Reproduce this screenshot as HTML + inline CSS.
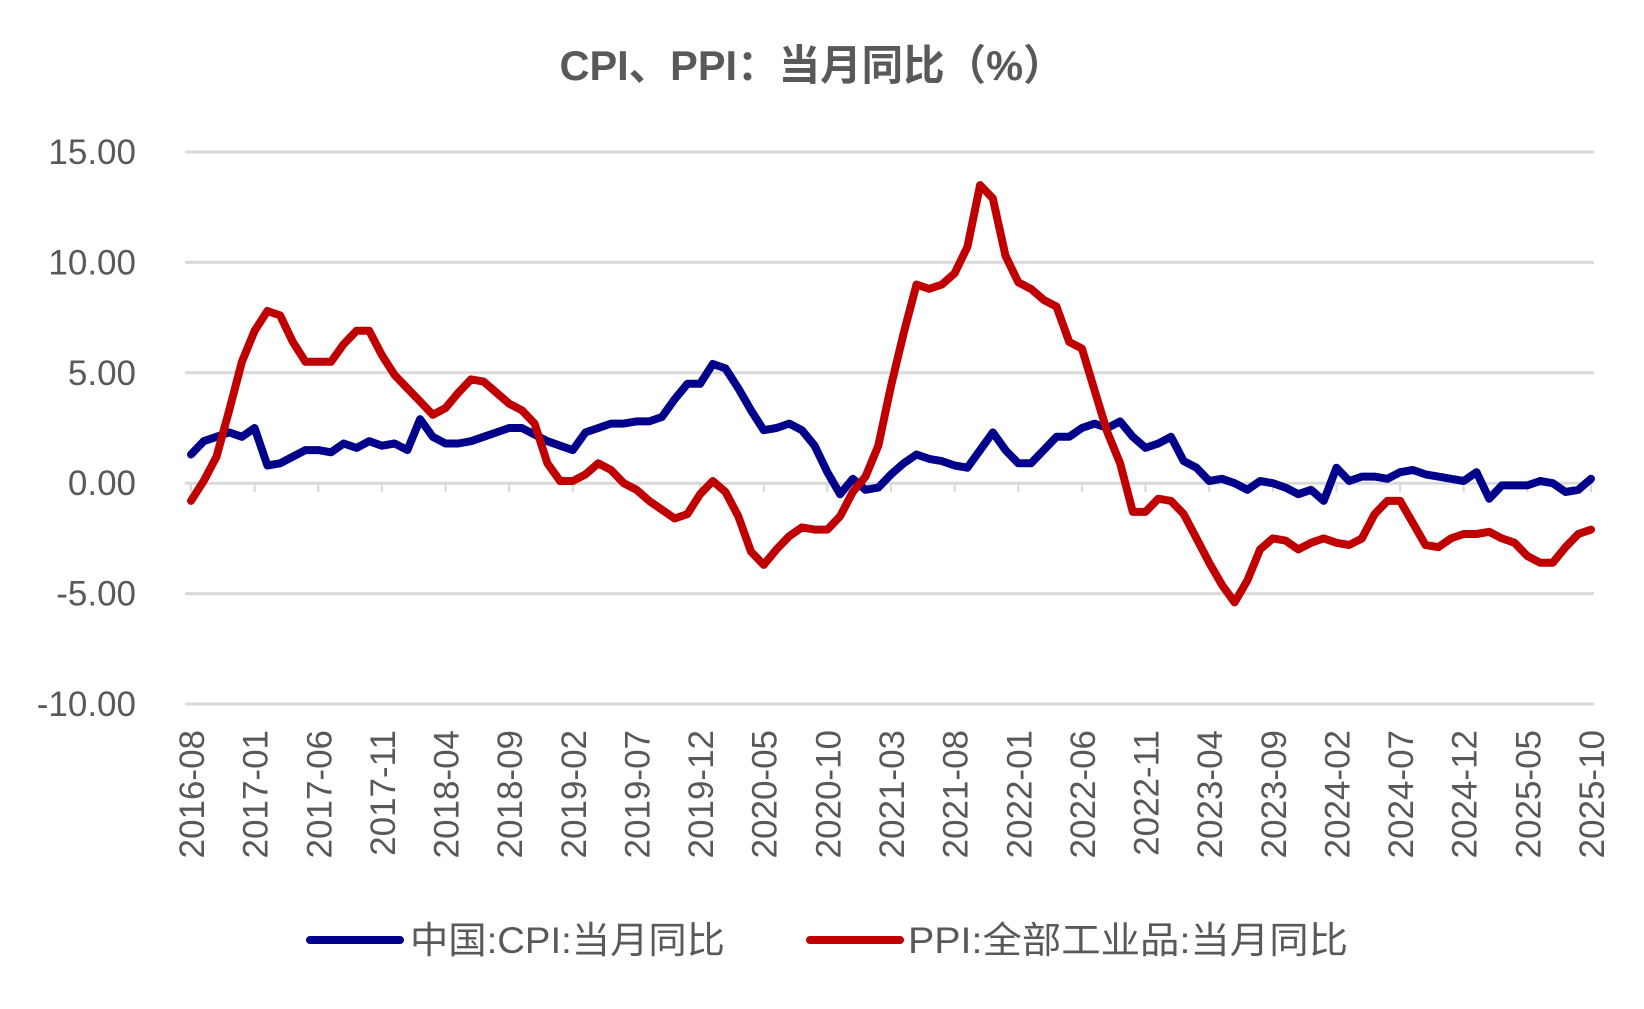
<!DOCTYPE html>
<html><head><meta charset="utf-8"><style>
body{margin:0;background:#fff;}
svg text{font-family:"Liberation Sans","Noto Sans CJK SC",sans-serif;fill:#595959;}
</style></head><body>
<svg id="chart" width="1644" height="1004" viewBox="0 0 1644 1004" xmlns="http://www.w3.org/2000/svg">
<text x="812" y="80" text-anchor="middle" font-size="42" font-weight="bold" textLength="505" lengthAdjust="spacingAndGlyphs">CPI、PPI：当月同比（%）</text>
<g id="grid"></g><g id="yl"></g><g id="xl"></g><g id="series"></g>
<g>
<line x1="310" y1="940" x2="400" y2="940" stroke="#00008B" stroke-width="8" stroke-linecap="round"/>
<text x="410" y="953" font-size="37" textLength="315" lengthAdjust="spacingAndGlyphs">中国:CPI:当月同比</text>
<line x1="810" y1="940" x2="900" y2="940" stroke="#C00000" stroke-width="8" stroke-linecap="round"/>
<text x="908" y="953" font-size="37" textLength="440" lengthAdjust="spacingAndGlyphs">PPI:全部工业品:当月同比</text>
</g>
</svg>
<script>
const yTicks=[15,10,5,0,-5,-10];
const yTickLabels=["15.00","10.00","5.00","0.00","-5.00","-10.00"];
const cpi=[1.3,1.9,2.1,2.3,2.1,2.5,0.8,0.9,1.2,1.5,1.5,1.4,1.8,1.6,1.9,1.7,1.8,1.5,2.9,2.1,1.8,1.8,1.9,2.1,2.3,2.5,2.5,2.2,1.9,1.7,1.5,2.3,2.5,2.7,2.7,2.8,2.8,3.0,3.8,4.5,4.5,5.4,5.2,4.3,3.3,2.4,2.5,2.7,2.4,1.7,0.5,-0.5,0.2,-0.3,-0.2,0.4,0.9,1.3,1.1,1.0,0.8,0.7,1.5,2.3,1.5,0.9,0.9,1.5,2.1,2.1,2.5,2.7,2.5,2.8,2.1,1.6,1.8,2.1,1.0,0.7,0.1,0.2,0.0,-0.3,0.1,0.0,-0.2,-0.5,-0.3,-0.8,0.7,0.1,0.3,0.3,0.2,0.5,0.6,0.4,0.3,0.2,0.1,0.5,-0.7,-0.1,-0.1,-0.1,0.1,0.0,-0.4,-0.3,0.2];
const ppi=[-0.8,0.1,1.2,3.3,5.5,6.9,7.8,7.6,6.4,5.5,5.5,5.5,6.3,6.9,6.9,5.8,4.9,4.3,3.7,3.1,3.4,4.1,4.7,4.6,4.1,3.6,3.3,2.7,0.9,0.1,0.1,0.4,0.9,0.6,0.0,-0.3,-0.8,-1.2,-1.6,-1.4,-0.5,0.1,-0.4,-1.5,-3.1,-3.7,-3.0,-2.4,-2.0,-2.1,-2.1,-1.5,-0.4,0.3,1.7,4.4,6.8,9.0,8.8,9.0,9.5,10.7,13.5,12.9,10.3,9.1,8.8,8.3,8.0,6.4,6.1,4.2,2.3,0.9,-1.3,-1.3,-0.7,-0.8,-1.4,-2.5,-3.6,-4.6,-5.4,-4.4,-3.0,-2.5,-2.6,-3.0,-2.7,-2.5,-2.7,-2.8,-2.5,-1.4,-0.8,-0.8,-1.8,-2.8,-2.9,-2.5,-2.3,-2.3,-2.2,-2.5,-2.7,-3.3,-3.6,-3.6,-2.9,-2.3,-2.1];
const startYear=2016,startMonth=8;
const NS="http://www.w3.org/2000/svg";
const n=cpi.length;
const X0=191,X1=1591,Y15=152,Ym10=704;
function xs(i){return X0+(X1-X0)*i/(n-1);}
function ys(v){return Y15+(15-v)*(Ym10-Y15)/25;}
function mk(t,a,p){const e=document.createElementNS(NS,t);for(const k in a)e.setAttribute(k,a[k]);p.appendChild(e);return e;}
const grid=document.getElementById('grid'),yl=document.getElementById('yl'),xl=document.getElementById('xl'),ser=document.getElementById('series');
yTicks.forEach((v,i)=>{
 const l=mk('line',{x1:185,x2:1594,y1:ys(v),y2:ys(v),stroke:'#d9d9d9','stroke-width':3},grid);
 
 
 const t=mk('text',{x:136,y:ys(v)+12,'text-anchor':'end','font-size':35},yl);
 t.textContent=yTickLabels[i];
 
 
});
for(let i=0;i<n;i+=5){
 const m=startMonth-1+i, yr=startYear+Math.floor(m/12), mo=m%12+1;
 const lab=yr+'-'+(mo<10?'0':'')+mo;
 const x=xs(i);
 const tk=mk('line',{x1:x,x2:x,y1:ys(0),y2:ys(0)+9,stroke:'#d9d9d9','stroke-width':2},grid);
 
 
 const t=mk('text',{x:0,y:0,'text-anchor':'end','font-size':35,transform:`translate(${x+13},730) rotate(-90)`},xl);
 t.textContent=lab;
 
 
}
function line(d,c,name){
 const p=mk('polyline',{points:d.map((v,i)=>xs(i).toFixed(1)+','+ys(v).toFixed(1)).join(' '),fill:'none',stroke:c,'stroke-width':8,'stroke-linejoin':'round','stroke-linecap':'round'},ser);
 
 
}
line(cpi,'#00008B','cpi-line');
line(ppi,'#C00000','ppi-line');
</script>
</body></html>
